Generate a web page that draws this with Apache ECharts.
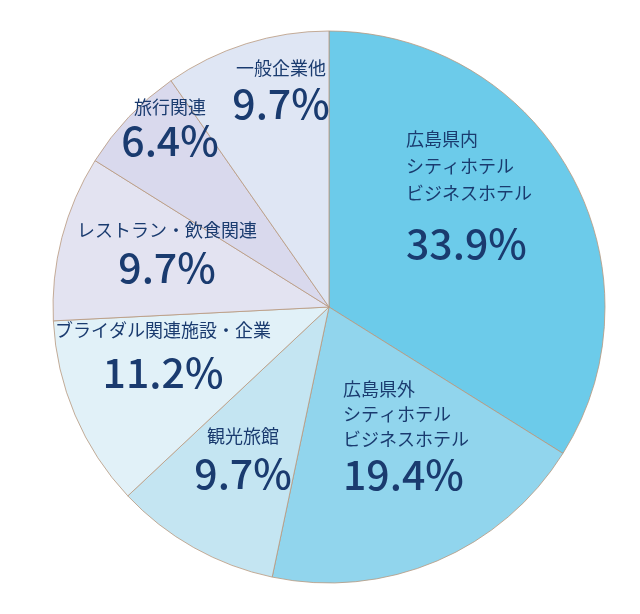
<!DOCTYPE html>
<html><head><meta charset="utf-8">
<script src="https://cdn.jsdelivr.net/npm/echarts@6/dist/echarts.min.js"></script>
<style>html,body{margin:0;padding:0;background:#fff}#c{width:640px;height:614px}</style>
</head><body><div id="c"></div>
<script>
const categories = ['広島県内\nシティホテル\nビジネスホテル','広島県外\nシティホテル\nビジネスホテル','観光旅館','ブライダル関連施設・企業','レストラン・飲食関連','旅行関連','一般企業他'];
const values = [33.9, 19.4, 9.7, 11.2, 9.7, 6.4, 9.7];
const colors = ['#6ccbea','#91d5ed','#c4e5f2','#e1f1f8','#e3e3f1','#d9d9ed','#dfe6f4'];

// label style per slice (line heights, anchor position, alignment)
const labelStyle = [
  {nlh:27, vlh:73, x:406, y:203, align:'left'},
  {nlh:25, vlh:45, x:343, y:437, align:'left'},
  {nlh:30, vlh:44, x:243, y:458, align:'center'},
  {nlh:30, vlh:54, x:163, y:357, align:'center'},
  {nlh:30, vlh:44, x:167, y:252, align:'center'},
  {nlh:30, vlh:36, x:170, y:125, align:'center'},
  {nlh:30, vlh:40, x:281, y:88, align:'center'}
];
const FONT = '"Noto Sans CJK JP","Noto Sans",sans-serif';
const TXT = '#1a3b6f';

const data = categories.map((n,i)=>({
  name:n, value:values[i],
  itemStyle:{color:colors[i]},
  label:{
    align:labelStyle[i].align,
    rich:{
      n:{fontSize:18, lineHeight:labelStyle[i].nlh, color:TXT, fontFamily:FONT, align:labelStyle[i].align},
      v:{fontSize:41, lineHeight:labelStyle[i].vlh, color:TXT, fontFamily:FONT, fontWeight:500, align:labelStyle[i].align}
    }
  }
}));

const chart = echarts.init(document.getElementById('c'), null, {renderer:'canvas'});
chart.setOption({
  animation:false,
  series:[{
    type:'pie',
    center:[329,307],
    radius:[0,276],
    startAngle:90,
    clockwise:true,
    itemStyle:{borderColor:'#b8987e', borderWidth:0.8},
    label:{show:true, position:'inside', formatter:p=>'{n|'+p.name+'}\n{v|'+p.value.toFixed(1)+'%}'},
    labelLine:{show:false},
    emphasis:{disabled:true},
    labelLayout:function(p){
      const s = labelStyle[p.dataIndex];
      return {x:s.x, y:s.y, align:s.align, verticalAlign:'middle'};
    },
    data:data
  }]
});
</script></body></html>
